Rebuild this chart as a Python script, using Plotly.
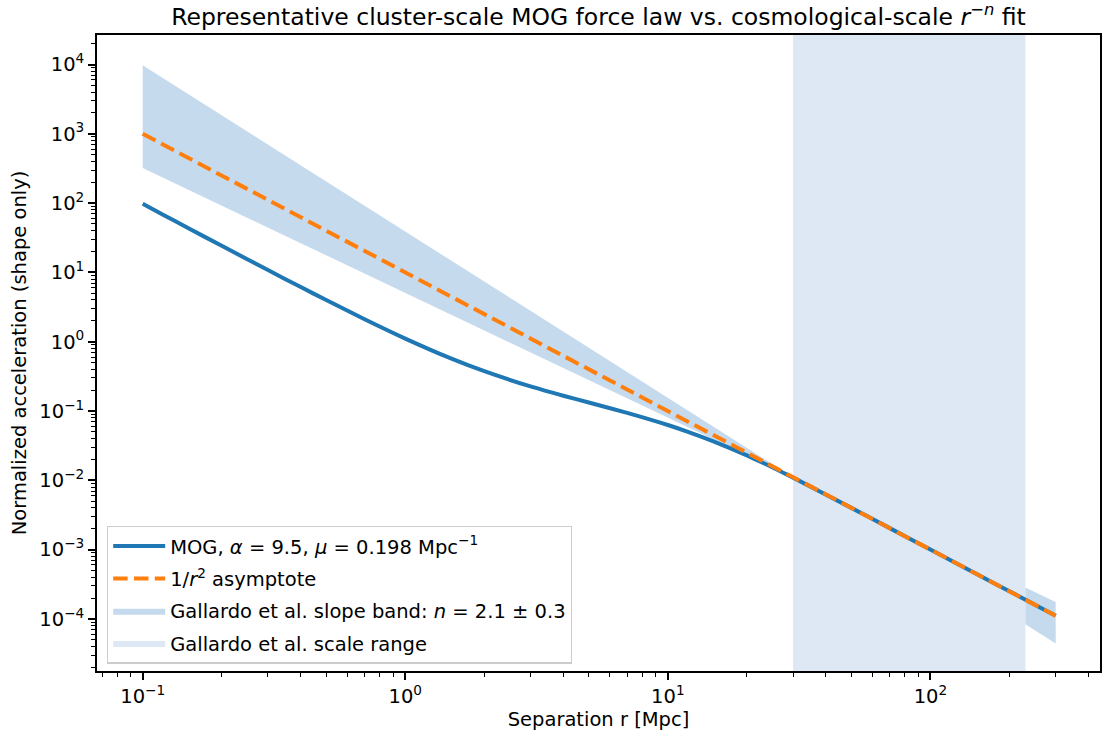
import plotly.graph_objects as go

# ---------------- data ----------------
r_mog = [0.1, 0.12, 0.15, 0.2, 0.3, 0.4, 0.5, 0.7, 1, 1.5, 2, 3, 4, 5, 7,
         10, 12, 15, 20, 25, 30, 50, 70, 100, 150, 200, 300]
a_mog = [98.0, 67.5, 43.0, 24.2, 10.8, 6.14, 3.99, 2.11, 1.11, 0.569, 0.375,
         0.2264, 0.166, 0.1324, 0.0939, 0.0628, 0.0497, 0.03625, 0.02286,
         0.01539, 0.01093, 0.0040, 0.00204, 0.00100, 0.000444, 0.00025, 0.000111]

r_asym = [0.1, 300]
a_asym = [1000, 1.111e-4]

# slope band n = 2.1 +/- 0.3 (visible outside the scale range)
band_r_left = [0.1, 30]
band_up_left = [9778, 0.01111]
band_lo_left = [320, 0.01111]
band_r_right = [230, 300]
band_up_right = [2.84e-4, 1.76e-4]
band_lo_right = [8.37e-5, 4.42e-5]

scale_range = [30, 230]

x_tickvals = [0.1, 1, 10, 100]
x_ticktext = ["10<sup>−1</sup>", "10<sup>0</sup>", "10<sup>1</sup>", "10<sup>2</sup>"]
y_tickvals = [1e-4, 1e-3, 1e-2, 1e-1, 1, 10, 100, 1e3, 1e4]
y_ticktext = ["10<sup>−4</sup>", "10<sup>−3</sup>", "10<sup>−2</sup>", "10<sup>−1</sup>",
              "10<sup>0</sup>", "10<sup>1</sup>", "10<sup>2</sup>", "10<sup>3</sup>",
              "10<sup>4</sup>"]

labels = {
    "mog": "MOG, <i>α</i> = 9.5, <i>μ</i> = 0.198 Mpc<sup>−1</sup>",
    "asym": "1/<i>r</i><sup>2</sup> asymptote",
    "band": "Gallardo et al. slope band: <i>n</i> = 2.1 ± 0.3",
    "range": "Gallardo et al. scale range",
}
title = ("Representative cluster-scale MOG force law vs. cosmological-scale "
         "<i>r</i><sup>−<i>n</i></sup> fit")

# ---------------- styling ----------------
C0 = "#1f77b4"
C1 = "#ff7f0e"
BAND = "#c6daee"
RANGE = "#dde8f4"
FONT = "DejaVu Sans"
FS = 19.5

x_minor = [m * 10.0 ** k for k in range(-2, 3) for m in range(2, 10)]
y_minor = [m * 10.0 ** k for k in range(-5, 5) for m in range(2, 10)]

fig = go.Figure()

fig.add_trace(go.Scatter(
    x=band_r_left + band_r_left[::-1],
    y=band_up_left + band_lo_left[::-1],
    fill="toself", fillcolor=BAND, mode="lines", line=dict(width=0, color=BAND),
    name=labels["band"], legendgroup="band", legendrank=3, showlegend=True,
    hoverinfo="skip"))
fig.add_trace(go.Scatter(
    x=band_r_right + band_r_right[::-1],
    y=band_up_right + band_lo_right[::-1],
    fill="toself", fillcolor=BAND, mode="lines", line=dict(width=0, color=BAND),
    name=labels["band"], legendgroup="band", showlegend=False, hoverinfo="skip"))

fig.add_trace(go.Scatter(
    x=r_mog, y=a_mog, mode="lines", name=labels["mog"], legendgroup="mog",
    legendrank=1, line=dict(color=C0, width=4, shape="spline", smoothing=0.6)))
fig.add_trace(go.Scatter(
    x=r_asym, y=a_asym, mode="lines", name=labels["asym"], legendgroup="asym",
    legendrank=2, line=dict(color=C1, width=4, dash="14.5px,6.3px")))

# legend entry for the scale-range span (the span itself is a layout shape)
fig.add_trace(go.Scatter(
    x=[None], y=[None], fill="toself", fillcolor=RANGE, mode="lines",
    line=dict(width=0, color=RANGE), name=labels["range"], legendgroup="range",
    legendrank=4, hoverinfo="skip"))

fig.add_shape(type="rect", xref="x", yref="paper",
              x0=scale_range[0], x1=scale_range[1], y0=0, y1=1,
              fillcolor=RANGE, line=dict(width=0), layer="below")

axis_common = dict(
    type="log", showgrid=False, zeroline=False,
    showline=True, linecolor="black", linewidth=1.6, mirror=True,
    ticks="outside", ticklen=7, tickwidth=1.6, tickcolor="black",
    tickfont=dict(family=FONT, size=FS, color="black"),
)

fig.update_xaxes(
    **axis_common, range=[-1.174, 2.646],
    tickvals=x_tickvals, ticktext=x_ticktext,
    minor=dict(ticks="outside", ticklen=4, tickwidth=1.2, tickcolor="black",
               tickvals=x_minor, showgrid=False),
    title=dict(text="Separation r [Mpc]", font=dict(family=FONT, size=FS, color="black"),
               standoff=5),
)
fig.update_yaxes(
    **axis_common, range=[-4.752, 4.426],
    tickvals=y_tickvals, ticktext=y_ticktext,
    minor=dict(ticks="outside", ticklen=4, tickwidth=1.2, tickcolor="black",
               tickvals=y_minor, showgrid=False),
    title=dict(text="Normalized acceleration (shape only)",
               font=dict(family=FONT, size=FS, color="black"), standoff=8),
)

fig.update_layout(
    width=1103, height=736,
    margin=dict(l=97, r=1, t=35, b=65),
    paper_bgcolor="white", plot_bgcolor="white",
    font=dict(family=FONT, size=FS, color="black"),
    title=dict(text=title, x=0.5, xref="paper", xanchor="center",
               y=1 - 17 / 736, yref="container", yanchor="middle",
               font=dict(family=FONT, size=23.5, color="black")),
    legend=dict(x=0.00995, y=0.2285, xanchor="left", yanchor="top",
                bgcolor="rgba(255,255,255,0.8)", bordercolor="#cccccc",
                borderwidth=1.2, traceorder="grouped", tracegroupgap=4,
                itemwidth=52, font=dict(family=FONT, size=FS, color="black")),
    showlegend=True,
)

fig.write_html(
    "out.html",
    config={"displayModeBar": False},
    post_script="document.body.style.margin='0';document.body.style.overflow='hidden';",
)
